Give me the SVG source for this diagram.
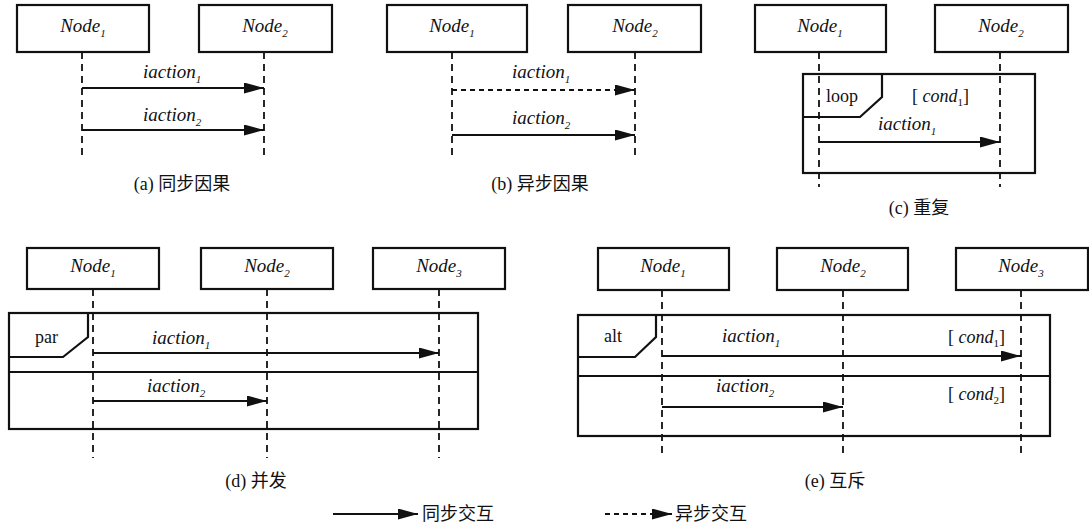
<svg xmlns="http://www.w3.org/2000/svg" width="1089" height="528" viewBox="0 0 1089 528">
  <style>
    .box { fill: #fff; stroke: #111; stroke-width: 2.2; }
    .life { stroke: #111; stroke-width: 1.8; stroke-dasharray: 7 5; fill: none; }
    .frame { fill: none; stroke: #111; stroke-width: 2.2; }
    .sync { stroke: #111; stroke-width: 1.8; fill: none; marker-end: url(#head); }
    .async { stroke: #111; stroke-width: 1.8; stroke-dasharray: 5 4; fill: none; marker-end: url(#head); }
    text { font-family: "Liberation Serif", "Times New Roman", "DejaVu Serif", serif; fill: #111; }
    .name { font-style: italic; font-size: 19px; text-anchor: middle; }
    .msg { font-style: italic; font-size: 19px; }
    .kw { font-size: 18px; }
    .sub { font-size: 11px; }
    .cap { font-family: "Liberation Serif", "Noto Sans CJK SC", serif; font-size: 18px; text-anchor: middle; }
    .leg { font-family: "Liberation Serif", "Noto Sans CJK SC", serif; font-size: 18px; }
  </style>
  <defs>
    <!-- filled arrowhead shared by every interaction -->
    <marker id="head" viewBox="0 0 20 11" refX="20" refY="5.5" markerWidth="20" markerHeight="11" markerUnits="userSpaceOnUse" orient="auto">
      <path d="M0,0 L20,5.5 L0,11 Z" fill="#111"/>
    </marker>
  </defs>
  <rect width="1089" height="528" fill="#fff"/>

  <!-- (a) synchronous causality -->
  <g id="a-node1">
    <rect class="box" x="17" y="5" width="132" height="47"/>
    <text class="name" x="83" y="32">Node<tspan class="sub" dy="5">1</tspan></text>
    <line class="life" x1="82" y1="52" x2="82" y2="157"/>
  </g>
  <g id="a-node2">
    <rect class="box" x="199" y="5" width="133" height="47"/>
    <text class="name" x="265" y="32">Node<tspan class="sub" dy="5">2</tspan></text>
    <line class="life" x1="264" y1="52" x2="264" y2="157"/>
  </g>

  <!-- (b) asynchronous causality -->
  <g id="b-node1">
    <rect class="box" x="387" y="5" width="140" height="47"/>
    <text class="name" x="452" y="32">Node<tspan class="sub" dy="5">1</tspan></text>
    <line class="life" x1="452" y1="52" x2="452" y2="157"/>
  </g>
  <g id="b-node2">
    <rect class="box" x="568" y="5" width="133" height="47"/>
    <text class="name" x="635" y="32">Node<tspan class="sub" dy="5">2</tspan></text>
    <line class="life" x1="635" y1="52" x2="635" y2="157"/>
  </g>

  <!-- (c) repetition -->
  <g id="c-node1">
    <rect class="box" x="755" y="5" width="131" height="47"/>
    <text class="name" x="820" y="32">Node<tspan class="sub" dy="5">1</tspan></text>
    <line class="life" x1="819" y1="52" x2="819" y2="187"/>
  </g>
  <g id="c-node2">
    <rect class="box" x="935" y="5" width="133" height="47"/>
    <text class="name" x="1001" y="32">Node<tspan class="sub" dy="5">2</tspan></text>
    <line class="life" x1="1000" y1="52" x2="1000" y2="187"/>
  </g>
  <g id="c-loop">
    <rect class="frame" x="803" y="74" width="232" height="99"/>
    <path class="frame" d="M803,117 L860,117 L882,97 L882,74"/>
    <text class="kw" x="826" y="102">loop</text>
    <text class="kw" x="912" y="102">[ <tspan font-style="italic">cond</tspan><tspan class="sub" dy="4">1</tspan><tspan dy="-4">]</tspan></text>
  </g>

  <!-- (d) concurrency -->
  <g id="d-node1">
    <rect class="box" x="27" y="248" width="132" height="41"/>
    <text class="name" x="93" y="272">Node<tspan class="sub" dy="5">1</tspan></text>
    <line class="life" x1="93" y1="289" x2="93" y2="458"/>
  </g>
  <g id="d-node2">
    <rect class="box" x="201" y="248" width="132" height="41"/>
    <text class="name" x="267" y="272">Node<tspan class="sub" dy="5">2</tspan></text>
    <line class="life" x1="267" y1="289" x2="267" y2="458"/>
  </g>
  <g id="d-node3">
    <rect class="box" x="373" y="248" width="132" height="41"/>
    <text class="name" x="439" y="272">Node<tspan class="sub" dy="5">3</tspan></text>
    <line class="life" x1="439" y1="289" x2="439" y2="458"/>
  </g>
  <g id="d-par">
    <rect class="frame" x="9" y="313" width="469" height="116"/>
    <path class="frame" d="M9,357 L63,357 L88,337 L88,313"/>
    <line class="frame" x1="9" y1="372" x2="478" y2="372"/>
    <text class="kw" x="35" y="343">par</text>
  </g>

  <!-- (e) mutual exclusion -->
  <g id="e-node1">
    <rect class="box" x="598" y="248" width="131" height="42"/>
    <text class="name" x="663" y="272">Node<tspan class="sub" dy="5">1</tspan></text>
    <line class="life" x1="662" y1="290" x2="662" y2="457"/>
  </g>
  <g id="e-node2">
    <rect class="box" x="777" y="248" width="131" height="42"/>
    <text class="name" x="843" y="272">Node<tspan class="sub" dy="5">2</tspan></text>
    <line class="life" x1="843" y1="290" x2="843" y2="457"/>
  </g>
  <g id="e-node3">
    <rect class="box" x="956" y="248" width="132" height="42"/>
    <text class="name" x="1021" y="272">Node<tspan class="sub" dy="5">3</tspan></text>
    <line class="life" x1="1021" y1="290" x2="1021" y2="457"/>
  </g>
  <g id="e-alt">
    <rect class="frame" x="578" y="315" width="472" height="121"/>
    <path class="frame" d="M578,357 L635,357 L656,337 L656,315"/>
    <line class="frame" x1="578" y1="376" x2="1050" y2="376"/>
    <text class="kw" x="604" y="342">alt</text>
    <text class="kw" x="948" y="343">[ <tspan font-style="italic">cond</tspan><tspan class="sub" dy="4">1</tspan><tspan dy="-4">]</tspan></text>
    <text class="kw" x="948" y="400">[ <tspan font-style="italic">cond</tspan><tspan class="sub" dy="4">2</tspan><tspan dy="-4">]</tspan></text>
  </g>

  <!-- interactions -->
  <g id="connectors">
    <line class="sync" x1="82" y1="88" x2="264" y2="88"/>
    <text class="msg" x="143" y="78">iaction<tspan class="sub" dy="5">1</tspan></text>
    <line class="sync" x1="82" y1="130" x2="264" y2="130"/>
    <text class="msg" x="143" y="121">iaction<tspan class="sub" dy="5">2</tspan></text>

    <line class="async" x1="452" y1="90" x2="635" y2="90"/>
    <text class="msg" x="512" y="78">iaction<tspan class="sub" dy="5">1</tspan></text>
    <line class="sync" x1="452" y1="135" x2="635" y2="135"/>
    <text class="msg" x="512" y="124">iaction<tspan class="sub" dy="5">2</tspan></text>

    <line class="sync" x1="819" y1="142" x2="1000" y2="142"/>
    <text class="msg" x="878" y="130">iaction<tspan class="sub" dy="5">1</tspan></text>

    <line class="sync" x1="93" y1="353" x2="439" y2="353"/>
    <text class="msg" x="152" y="344">iaction<tspan class="sub" dy="5">1</tspan></text>
    <line class="sync" x1="93" y1="401" x2="267" y2="401"/>
    <text class="msg" x="147" y="392">iaction<tspan class="sub" dy="5">2</tspan></text>

    <line class="sync" x1="662" y1="356" x2="1021" y2="356"/>
    <text class="msg" x="722" y="342">iaction<tspan class="sub" dy="5">1</tspan></text>
    <line class="sync" x1="662" y1="407" x2="843" y2="407"/>
    <text class="msg" x="716" y="392">iaction<tspan class="sub" dy="5">2</tspan></text>
  </g>

  <!-- captions -->
  <text class="cap" x="182" y="190">(a) 同步因果</text>
  <text class="cap" x="540" y="190">(b) 异步因果</text>
  <text class="cap" x="919" y="214">(c) 重复</text>
  <text class="cap" x="256" y="487">(d) 并发</text>
  <text class="cap" x="835" y="487">(e) 互斥</text>

  <!-- legend -->
  <g id="legend">
    <line class="sync" x1="333" y1="514" x2="418" y2="514"/>
    <text class="leg" x="422" y="520">同步交互</text>
    <line class="async" x1="605" y1="514" x2="672" y2="514"/>
    <text class="leg" x="675" y="520">异步交互</text>
  </g>
</svg>
